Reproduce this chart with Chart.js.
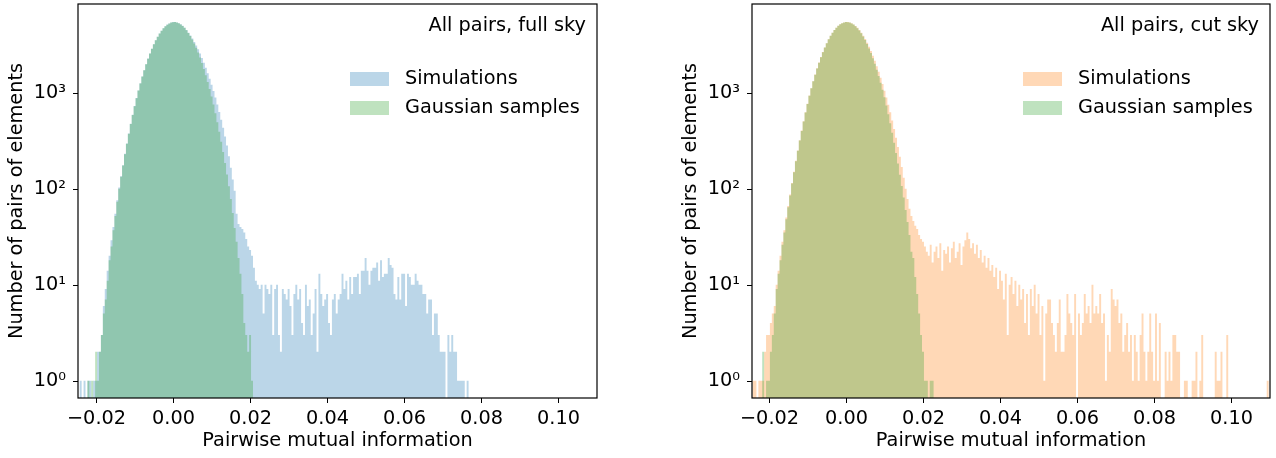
<!DOCTYPE html>
<html>
<head>
<meta charset="utf-8">
<script src="https://cdn.jsdelivr.net/npm/chart.js@4.4.1/dist/chart.umd.min.js"></script>
<style>
  html, body { margin: 0; padding: 0; background: #fff; }
  #wrap { position: relative; width: 1276px; height: 458px; }
  .panel { position: absolute; top: 0; width: 638px; height: 458px; }
</style>
</head>
<body>
<div id="wrap">
  <div class="panel" style="left:0"><canvas id="fullSky"></canvas></div>
  <div class="panel" style="left:638px"><canvas id="cutSky"></canvas></div>
</div>
<script>
// histogram bins are 0.0005 wide; each *Start is the centre of the first bin
const binWidth = 0.0005;

const fullSkySimStart = -0.024;
const fullSkySimCounts = [
  1, 0, 1, 0, 1, 1, 0, 1, 1, 2, 2, 3,
  6, 9, 14, 20, 29, 40, 55, 76, 103,
  135, 176, 231, 296, 377, 474, 590, 726, 881, 1057, 1255, 1476, 1718, 1983, 2266, 2567, 2878, 3197, 3519, 3836, 4143, 4432, 4696, 4929, 5124, 5277, 5383,
  5440,
  5452, 5398, 5300, 5160, 4975, 4755, 4495, 4215, 3935, 3664, 3386, 3107, 2834, 2563, 2301, 2054, 1820, 1600, 1399, 1212,
  1042, 890, 753, 630, 524, 432, 350, 282, 218, 165, 125, 95, 55, 43, 40, 38, 35, 30, 25, 23, 20, 15, 11,
  10, 9, 10, 5, 10, 9, 8, 10, 3, 9, 10, 3, 2, 9, 8, 7, 9, 6, 3, 8, 10, 7, 9, 4, 3, 10, 6, 7, 3, 5, 9, 2, 13, 8, 6,
  7, 8, 4, 3, 7, 8, 5, 7, 8, 13, 9, 11, 7, 12,
  8, 12, 12, 13, 8, 14, 14, 19, 14, 10, 14, 15, 15, 17, 11, 18, 12, 13, 13, 19, 16, 15, 8, 7, 12, 7, 13, 13, 6, 13,
  12, 10, 10, 13, 11, 10, 10, 8, 8, 5, 7, 7, 3, 5, 5, 3, 2, 2, 2, 0, 3, 2, 3, 2, 2, 1, 1, 1, 1, 0, 1
];

const fullSkyGaussStart = -0.022;
const fullSkyGaussCounts = [
  1, 0, 1, 0, 2, 1, 2, 3, 5, 7, 11, 18, 25, 37, 52, 73, 100, 133, 175, 229, 294, 374, 471, 587, 723, 878,
  1053, 1251, 1472, 1714, 1979, 2262, 2563, 2874, 3193, 3515, 3832, 4139, 4428, 4692, 4925, 5120, 5273, 5379,
  5437,
  5445, 5395, 5297, 5152, 4966, 4742, 4483, 4198, 3895, 3579, 3257, 2938, 2624, 2321, 2034, 1766, 1518, 1293, 1091, 911,
  753, 612, 492, 392, 309, 241, 185, 141, 106, 78, 56, 39, 28, 19, 13, 8, 4, 3, 2, 3, 1
];

const cutSkySimStart = -0.024;
const cutSkySimCounts = [
  1, 1, 0, 1, 1, 1, 2, 3, 3, 4, 5, 6, 10, 14, 20, 28, 37, 50, 66, 87, 115,
  150, 195, 250, 320, 405, 505, 625, 768, 935, 1115, 1320, 1545, 1795, 2060, 2350, 2650, 2960, 3280, 3600, 3915, 4215, 4500, 4755, 4980, 5165, 5305, 5400,
  5445,
  5445, 5390, 5290, 5145, 4960, 4740, 4490, 4215, 3925, 3625, 3320, 3015, 2715, 2425, 2150, 1890, 1650, 1430, 1230, 1050,
  890, 750, 625, 515, 420, 340, 272, 215, 168, 130, 100, 78, 62, 52, 46, 41, 38, 33, 30, 28, 25, 22,
  20, 26, 17, 22, 25, 19, 27, 14, 23, 21, 25, 17, 24, 28, 19, 22, 27, 16, 25, 29,
  35,
  30, 24, 27, 21, 26, 19, 23, 17, 20, 15, 19, 14,
  16, 12, 15, 9, 14, 11, 7, 13, 3, 10, 12, 8, 11, 6,
  10, 7, 9, 4, 8, 3, 9, 6, 10, 5, 8, 3,
  6, 1, 5, 7, 7, 4, 3, 2, 4, 7, 2, 2, 3, 8, 5, 4, 3, 8, 0, 5, 3, 4, 8, 5, 6, 4, 10, 5, 6, 5, 8,
  4, 5, 1, 3, 2, 9, 7, 6, 7, 4, 5, 2, 3, 4, 2, 3, 1, 3, 2, 1, 3, 5, 2, 1, 2, 5, 2, 1, 5, 1, 4,
  0, 0, 2, 1, 2, 1, 3, 3, 2, 2, 0, 0, 1, 1, 0, 0, 1, 1, 2, 0, 1, 3, 0, 0, 0, 0, 0, 0, 2, 1, 1, 2, 0, 0, 3,
  0, 0, 0, 0, 0, 0, 0, 0, 0, 0, 0, 0, 0, 0, 0, 0, 0, 0, 0, 0, 1
];

const cutSkyGaussStart = -0.022;
const cutSkyGaussCounts = [
  0, 2, 0, 1, 1, 2, 3, 5, 9, 13, 18, 26, 35, 48, 64, 85, 113, 148, 193, 248, 317, 400, 501, 622, 764, 931,
  1112, 1316, 1542, 1790, 2058, 2345, 2647, 2959, 3279, 3597, 3911, 4210, 4494, 4750, 4973, 5158, 5300, 5395,
  5442,
  5437, 5380, 5275, 5124, 4931, 4701, 4440, 4152, 3849, 3533, 3215, 2896, 2586, 2286, 2003, 1739, 1495, 1273, 1074, 898,
  735, 597, 480, 383, 302, 236, 183, 140, 107, 81, 60, 45, 33, 22, 19, 12, 8, 5, 3, 2, 1, 1, 0, 1, 1
];

const seriesNames = ['Simulations', 'Gaussian samples'];
const panelNotes = ['All pairs, full sky', 'All pairs, cut sky'];
const xTickValues = [-0.02, 0.00, 0.02, 0.04, 0.06, 0.08, 0.10];
const yMajorTicks = [1, 10, 100, 1000];
const yMajorLabels = ['10⁰', '10¹', '10²', '10³'];
const yMinorTicks = [0.7, 0.8, 0.9, 2, 3, 4, 5, 6, 7, 8, 9, 20, 30, 40, 50, 60, 70, 80, 90,
  200, 300, 400, 500, 600, 700, 800, 900, 2000, 3000, 4000, 5000, 6000, 7000, 8000];

const Y_MIN = 0.66;
const Y_MAX = 8400;
const FONT = 'DejaVu Sans';
const FS = 19.3;

Chart.defaults.font.family = FONT;
Chart.defaults.font.size = FS;
Chart.defaults.color = '#000';

// one point per bin centre plus an empty bin on each side; a stepped
// line filled down to the axis then draws the histogram as one shape.
// Empty bins sit on the axis floor (log scale cannot show zero).
function toPoints(start, counts) {
  const padded = [0].concat(counts, [0]);
  return padded.map((c, i) => ({
    x: Math.round((start + (i - 1) * binWidth) * 1e5) / 1e5,
    y: c > 0 ? c : Y_MIN
  }));
}

function tickText(v) {
  if (Math.abs(v) < 1e-9) return '0.00';
  return (v < 0 ? '\u2212' : '') + Math.abs(v).toFixed(2);
}

// spines, tick marks, x tick labels, corner note and legend, matplotlib style
const decor = {
  id: 'decor',
  afterDatasetsDraw(chart, args, opts) {
    const { ctx, chartArea: a, scales: { x, y } } = chart;
    ctx.save();
    ctx.strokeStyle = '#000';
    ctx.fillStyle = '#000';
    ctx.font = FS + 'px "' + FONT + '"';

    ctx.lineWidth = 1;
    ctx.textAlign = 'center';
    ctx.textBaseline = 'alphabetic';
    x.ticks.forEach(t => {
      const px = Math.round(x.getPixelForValue(t.value)) + 0.5;
      ctx.beginPath(); ctx.moveTo(px, a.bottom); ctx.lineTo(px, a.bottom + 5); ctx.stroke();
      ctx.fillText(tickText(t.value), px, a.bottom + 26);
    });
    y.ticks.forEach(t => {
      const major = yMajorTicks.includes(t.value);
      const py = Math.round(y.getPixelForValue(t.value)) + 0.5;
      ctx.lineWidth = major ? 1 : 0.8;
      ctx.beginPath(); ctx.moveTo(a.left, py); ctx.lineTo(a.left - (major ? 5 : 3), py); ctx.stroke();
    });

    ctx.lineWidth = 1.2;
    ctx.strokeRect(a.left, a.top, a.right - a.left, a.bottom - a.top);

    ctx.textAlign = 'right';
    ctx.fillText(opts.note, a.right - 11, a.top + 26.5);

    ctx.textAlign = 'left';
    ctx.textBaseline = 'middle';
    chart.data.datasets.forEach((ds, i) => {
      const cy = a.top + 75 + i * 29;
      ctx.fillStyle = ds.backgroundColor;
      ctx.fillRect(a.right - 247, cy - 7, 39, 14);
      ctx.fillStyle = '#000';
      ctx.fillText(ds.label, a.right - 192, cy);
    });
    ctx.restore();
  }
};

function noPad(s) {
  s.paddingTop = 0; s.paddingBottom = 0; s.paddingLeft = 0; s.paddingRight = 0;
}

function makePanel(id, simStart, simCounts, gaussStart, gaussCounts, simColor, note, padLeft, padRight, xMin) {
  const histStyle = {
    stepped: 'middle', fill: 'start', borderWidth: 0,
    pointRadius: 0, pointHoverRadius: 0, spanGaps: true
  };
  new Chart(document.getElementById(id), {
    type: 'line',
    data: {
      datasets: [
        Object.assign({ label: seriesNames[0], data: toPoints(simStart, simCounts), backgroundColor: simColor, order: 2 }, histStyle),
        Object.assign({ label: seriesNames[1], data: toPoints(gaussStart, gaussCounts), backgroundColor: 'rgba(44,160,44,0.3)', order: 1 }, histStyle)
      ]
    },
    options: {
      responsive: true,
      maintainAspectRatio: false,
      animation: false,
      devicePixelRatio: 1,
      layout: { padding: { left: padLeft, right: padRight, top: 4, bottom: 0 } },
      plugins: {
        legend: { display: false },
        tooltip: { enabled: false },
        decor: { note: note }
      },
      scales: {
        x: {
          type: 'linear',
          min: xMin,
          max: 0.1101,
          offset: false,
          afterBuildTicks: s => { s.ticks = xTickValues.map(v => ({ value: v })); },
          ticks: { display: false },
          grid: { display: false, drawTicks: false },
          border: { display: false },
          title: { display: true, text: 'Pairwise mutual information', padding: { top: 0, bottom: 5 } },
          afterFit: s => { s.height = 60; noPad(s); }
        },
        y: {
          type: 'logarithmic',
          min: Y_MIN,
          max: Y_MAX,
          afterBuildTicks: s => {
            s.ticks = yMinorTicks.concat(yMajorTicks).sort((p, q) => p - q).map(v => ({ value: v }));
          },
          ticks: {
            autoSkip: false,
            padding: 12,
            callback: v => {
              const k = yMajorTicks.indexOf(v);
              return k >= 0 ? yMajorLabels[k] : null;
            }
          },
          grid: { display: false, drawTicks: false },
          border: { display: false },
          title: { display: true, text: 'Number of pairs of elements', padding: { top: 5, bottom: 0 } },
          afterFit: s => { s.width = 78; noPad(s); }
        }
      }
    },
    plugins: [decor]
  });
}

makePanel('fullSky', fullSkySimStart, fullSkySimCounts, fullSkyGaussStart, fullSkyGaussCounts,
  'rgba(31,119,180,0.3)', panelNotes[0], 0, 41, -0.0247);
makePanel('cutSky', cutSkySimStart, cutSkySimCounts, cutSkyGaussStart, cutSkyGaussCounts,
  'rgba(255,127,14,0.3)', panelNotes[1], 36, 6, -0.0244);
</script>
</body>
</html>
